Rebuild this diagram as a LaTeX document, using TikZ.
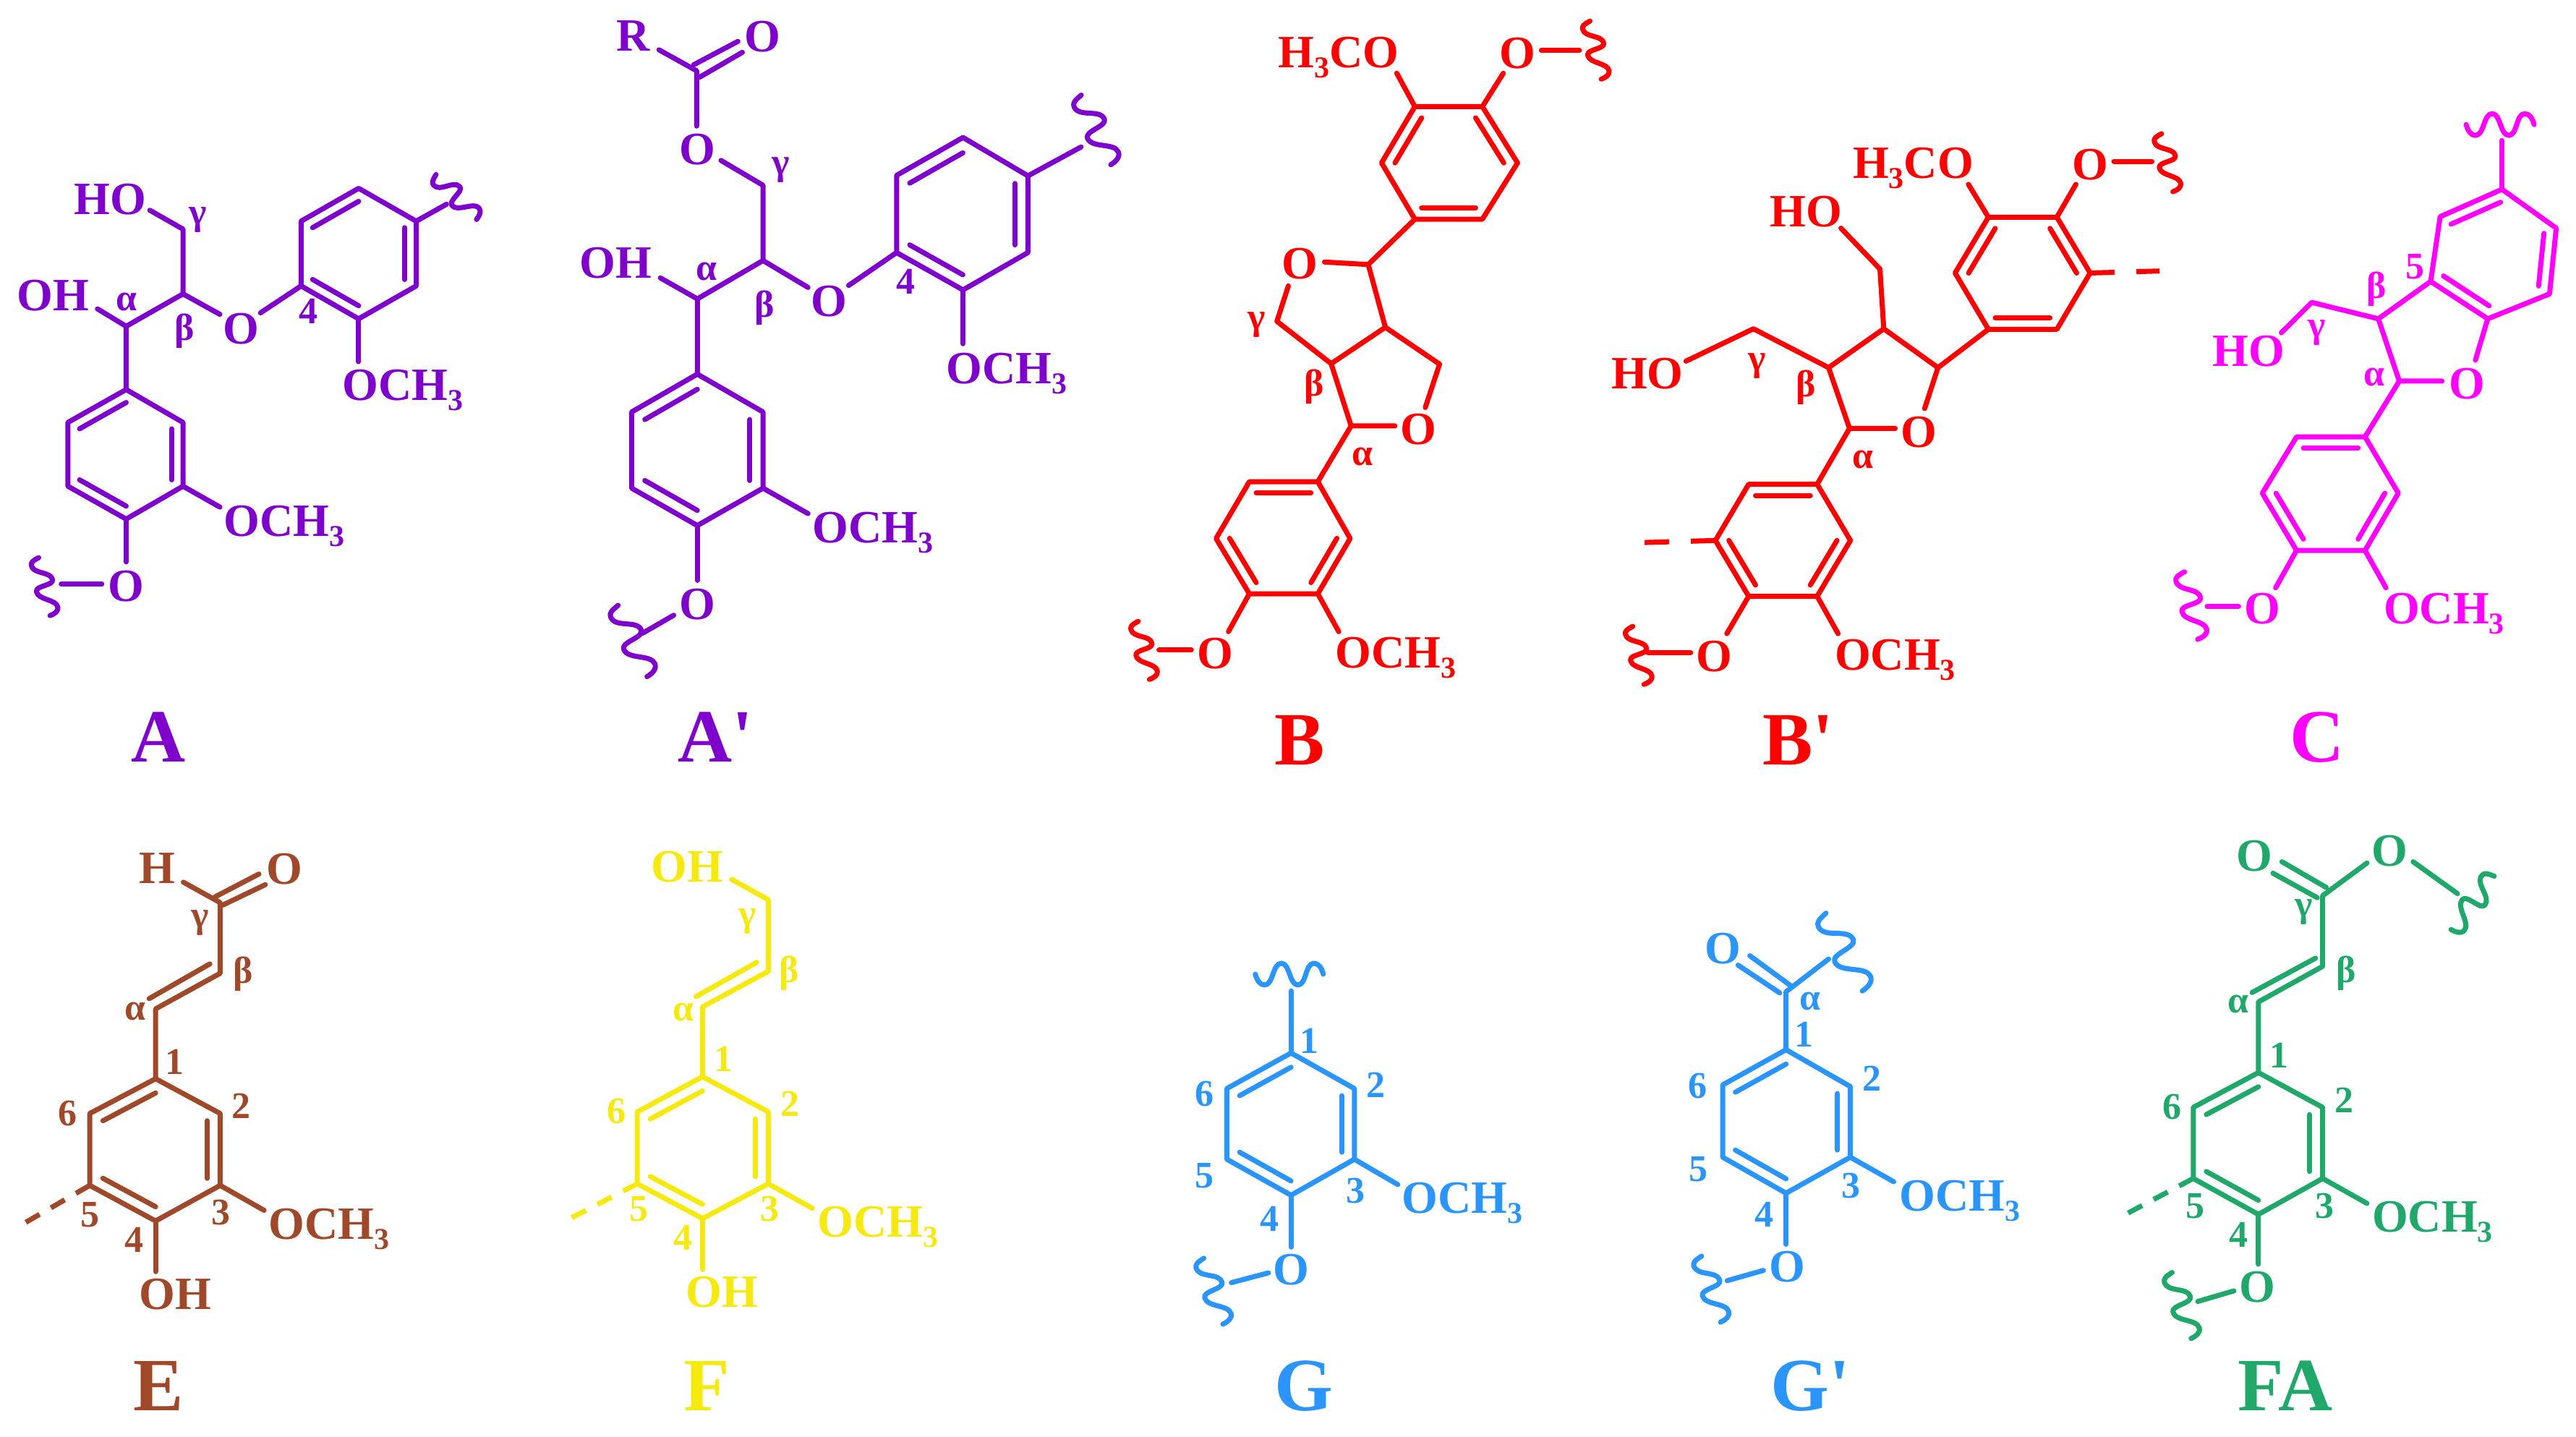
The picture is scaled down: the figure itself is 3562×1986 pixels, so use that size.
\documentclass[tikz,border=0pt]{standalone}
\usepackage{fontspec}
\setmainfont{Liberation Serif}
\usetikzlibrary{calc}
\definecolor{cPur}{HTML}{7F00CC}
\definecolor{cRed}{HTML}{FF0000}
\definecolor{cMag}{HTML}{FF00FF}
\definecolor{cBro}{HTML}{A0492A}
\definecolor{cYel}{HTML}{F5E90F}
\definecolor{cBlu}{HTML}{2B95FF}
\definecolor{cGrn}{HTML}{20A86B}
\tikzset{
  bd/.style={line width=1.75pt,line cap=round,line join=round},
  dsh/.style={bd,line cap=butt,dash pattern=on 5.5pt off 4.5pt},
  dshB/.style={bd,line cap=butt,dash pattern=on 8.5pt off 7.5pt},
  fml/.style={inner sep=0pt,anchor=base west,font=\fontsize{16}{18}\selectfont\bfseries},
  oat/.style={inner sep=0pt,font=\fontsize{16}{18}\selectfont\bfseries},
  grk/.style={inner sep=0pt,font=\fontsize{13}{14}\selectfont\bfseries},
  ttl/.style={inner sep=0pt,anchor=base,font=\fontsize{26}{28}\selectfont\bfseries},
  wv/.pic={\draw[bd,x=.25pt,y=-.25pt] (-47,0) .. controls (-44,10) and (-42,14) .. (-37,14) .. controls (-22,14) and (-22,-15) .. (-8,-15) .. controls (2,-15) and (-4,14) .. (6,14) .. controls (20,14) and (24,-15) .. (37,-15) .. controls (44,-15) and (47,-7) .. (48,0);},
  wh/.pic={\draw[bd,x=.25pt,y=-.25pt] (-47,0) .. controls (-44,10) and (-40,15) .. (-34,15) .. controls (-22,15) and (-23,-15) .. (-11,-15) .. controls (1,-15) and (0,15) .. (12,15) .. controls (24,15) and (22,-15) .. (34,-15) .. controls (41,-15) and (45,-8) .. (47,0);},
  zA/.style={x=.2551pt,y=-.17219pt},
  zB/.style={x=.3288pt,y=-.17219pt},
  zC/.style={x=.2232pt,y=-.14126pt,shift={(0pt,-275pt)}},
  zD/.style={x=.31282pt,y=-.14126pt,shift={(400pt,-275pt)}},
}
\newcommand\Ring[7]{%
  \coordinate (#11) at (#2);\coordinate (#12) at (#3);\coordinate (#13) at (#4);
  \coordinate (#14) at (#5);\coordinate (#15) at (#6);\coordinate (#16) at (#7);
  \coordinate (#1c) at ($(#11)!.5!(#14)$);
  \draw[bd] (#11)--(#12)--(#13)--(#14)--(#15)--(#16)--cycle;}
\newcommand\Dbl[3]{\draw[bd] ($(#1#2)!.2!(#1c)$) -- ($(#1#3)!.2!(#1c)$);}
\newcommand\Three{\raisebox{-.22em}{\fontsize{10.5}{11}\selectfont 3}}
\newcommand\OMe{OCH\Three}
\newcommand\MeO{H\Three CO}
\begin{document}
\begin{tikzpicture}[x=.25pt,y=-.25pt]
\useasboundingbox (0,0) rectangle (3562,1986);
% ---------- A
\begin{scope}[zA,color=cPur]
\Ring{at}{564,444}{564,574}{486,640}{408,574}{408,444}{486,378}
\Dbl{at}{1}{2}\Dbl{at}{3}{4}\Dbl{at}{5}{6}
\Ring{al}{171,782}{248,848}{248,976}{171,1042}{92,976}{92,848}
\Dbl{al}{2}{3}\Dbl{al}{4}{5}\Dbl{al}{6}{1}
\coordinate (ag) at (248,460);\coordinate (ab) at (248,590);\coordinate (aa) at (171,655);
\draw[bd] (203,422) coordinate (ae1) -- (ag) -- (ab) -- (aa) -- (al1);
\draw[bd] (aa) -- (132,620) coordinate (ae2);
\draw[bd] (ab) -- (298,631) coordinate (ae3);
\draw[bd] (at4) -- (353,628) coordinate (ae4);
\draw[bd] (at1) -- (605,410) coordinate (ae5);
\draw[bd] (at3) -- (486,726) coordinate (ae6);
\draw[bd] (al3) -- (298,1018) coordinate (ae7);
\draw[bd] (al4) -- (171,1128) coordinate (ae8);
\draw[bd] (83,1173) coordinate (ae9) -- (138,1173) coordinate (ae10);
\pic[rotate=-48,scale=.88] at (618,395) {wv};
\pic[rotate=-79,scale=.86] at (60,1177) {wv};
\node[fml] (aHO) at (100,430) {HO};
\node[fml] (aOH) at (22,623) {OH};
\node[oat] (aO1) at (327,660) {O};
\node[oat] (aO2) at (171,1177) {O};
\node[fml] (aM1) at (463,803) {\OMe};
\node[fml] (aM2) at (303,1076) {\OMe};
\node[grk] (aLa) at (172,606) {α};
\node[grk] (aLb) at (250,665) {β};
\node[grk] (aLg) at (268,442) {γ};
\node[grk] (aL4) at (418,625) {4};
\node[ttl] (aT) at (215,1530) {A};
\end{scope}
% ---------- A'
\begin{scope}[zA,color=cPur]
\Ring{bt}{1393,353}{1393,507}{1305,582}{1215,507}{1215,352}{1305,276}
\Dbl{bt}{1}{2}\Dbl{bt}{3}{4}\Dbl{bt}{5}{6}
\Ring{bl}{945,751}{1034,827}{1034,980}{945,1055}{856,980}{856,827}
\Dbl{bl}{2}{3}\Dbl{bl}{4}{5}\Dbl{bl}{6}{1}
\coordinate (bc) at (944,142);\coordinate (bg) at (1034,372);\coordinate (bb) at (1034,523);\coordinate (ba) at (945,600);
\draw[bd] (893,100) coordinate (be1) -- (bc) -- (944,253) coordinate (be2);
\draw[bd] (940,130) coordinate (be3) -- (1000,83) coordinate (be4);
\draw[bd] (948,155) coordinate (be5) -- (1006,105) coordinate (be6);
\draw[bd] (977,322) coordinate (be7) -- (bg) -- (bb) -- (ba) -- (bl1);
\draw[bd] (ba) -- (895,558) coordinate (be8);
\draw[bd] (bb) -- (1095,577) coordinate (be9);
\draw[bd] (bt4) -- (1150,573) coordinate (be10);
\draw[bd] (bt1) -- (1465,295) coordinate (be11);
\draw[bd] (bt3) -- (1305,690) coordinate (be12);
\draw[bd] (bl3) -- (1095,1031) coordinate (be13);
\draw[bd] (bl4) -- (945,1165) coordinate (be14);
\draw[bd] (913,1235) coordinate (be15) -- (871,1271) coordinate (be16);
\pic[rotate=-67,scale=1.1] at (1485,260) {wv};
\pic[rotate=-68,scale=1.12] at (857,1286) {wv};
\node[fml] (bR) at (835,103) {R};
\node[oat] (bO0) at (1033,73) {O};
\node[oat] (bO1) at (945,300) {O};
\node[oat] (bO2) at (1123,605) {O};
\node[oat] (bO3) at (945,1213) {O};
\node[fml] (bOH) at (785,558) {OH};
\node[fml] (bM1) at (1282,770) {\OMe};
\node[fml] (bM2) at (1100,1090) {\OMe};
\node[grk] (bLa) at (957,545) {α};
\node[grk] (bLb) at (1036,618) {β};
\node[grk] (bLg) at (1058,342) {γ};
\node[grk] (bL4) at (1227,565) {4};
\node[ttl] (bT) at (970,1530) {A\textquotesingle};
\end{scope}
% ---------- B
\begin{scope}[zB,shift={(375pt,0pt)},color=cRed]
\Ring{ct}{347,214}{418,214}{455,327}{418,440}{347,440}{312,327}
\Dbl{ct}{6}{1}\Dbl{ct}{2}{3}\Dbl{ct}{4}{5}
\Ring{cl}{245,967}{279,1081}{245,1192}{173,1192}{138,1081}{173,967}
\Dbl{cl}{1}{6}\Dbl{cl}{2}{3}\Dbl{cl}{4}{5}
\coordinate (cC) at (298,531);\coordinate (cg) at (202,645);\coordinate (cb) at (259,730);
\coordinate (cD) at (316,657);\coordinate (cE) at (373,731);\coordinate (ca) at (280,855);
\draw[bd] (ct5) -- (cC) -- (252,526) coordinate (ce1);
\draw[bd] (214,574) coordinate (ce2) -- (cg) -- (cb) -- (cD) -- (cC);
\draw[bd] (cD) -- (cE) -- (358,818) coordinate (ce3);
\draw[bd] (326,855) coordinate (ce4) -- (ca) -- (cb);
\draw[bd] (ca) -- (cl1);
\draw[bd] (328,147) coordinate (ce5) -- (ct1);
\draw[bd] (440,147) coordinate (ce6) -- (ct2);
\draw[bd] (480,101) coordinate (ce7) -- (520,101) coordinate (ce8);
\draw[bd] (cl3) -- (267,1268) coordinate (ce9);
\draw[bd] (cl4) -- (151,1268) coordinate (ce10);
\draw[bd] (78,1305) coordinate (ce11) -- (112,1305) coordinate (ce12);
\pic[rotate=-79,scale=.86] at (537,100) {wv};
\pic[rotate=-79,scale=.86] at (62,1305) {wv};
\node[fml] (cM0) at (203,135) {\MeO};
\node[oat] (cO0) at (455,107) {O};
\node[oat] (cO1) at (226,529) {O};
\node[oat] (cO2) at (351,862) {O};
\node[oat] (cO3) at (137,1312) {O};
\node[fml] (cM1) at (263,1340) {\OMe};
\node[grk] (cLg) at (181,652) {γ};
\node[grk] (cLb) at (241,777) {β};
\node[grk] (cLa) at (292,917) {α};
\node[ttl] (cT) at (226,1535) {B};
\end{scope}
% ---------- B'
\begin{scope}[zB,shift={(375pt,0pt)},color=cRed]
\Ring{dt}{950,436}{1022,436}{1057,548}{1022,661}{950,661}{915,548}
\Dbl{dt}{6}{1}\Dbl{dt}{2}{3}\Dbl{dt}{4}{5}
\Ring{dl}{770,972}{805,1085}{770,1197}{698,1197}{663,1085}{698,972}
\Dbl{dl}{1}{6}\Dbl{dl}{2}{3}\Dbl{dl}{4}{5}
\coordinate (dC) at (897,738);\coordinate (dD) at (840,660);\coordinate (dF) at (836,540);
\coordinate (db) at (782,738);\coordinate (dg) at (703,660);\coordinate (da) at (804,860);
\draw[bd] (dt5) -- (dC) -- (dD) -- (dF) -- (795,458) coordinate (de1);
\draw[bd] (dD) -- (db) -- (dg) -- (632,725) coordinate (de2);
\draw[bd] (dC) -- (883,820) coordinate (de3);
\draw[bd] (852,860) coordinate (de4) -- (da) -- (db);
\draw[bd] (da) -- (dl1);
\draw[bd] (929,370) coordinate (de5) -- (dt1);
\draw[bd] (1042,370) coordinate (de6) -- (dt2);
\draw[bd] (1082,324) coordinate (de7) -- (1122,324) coordinate (de8);
\draw[dshB] (dt3) -- (1130,544) coordinate (de9);
\draw[dshB] (dl5) -- (570,1090) coordinate (de10);
\draw[bd] (dl3) -- (792,1272) coordinate (de11);
\draw[bd] (dl4) -- (675,1272) coordinate (de12);
\draw[bd] (592,1310) coordinate (de13) -- (637,1310) coordinate (de14);
\pic[rotate=-79,scale=.86] at (1138,326) {wv};
\pic[rotate=-79,scale=.86] at (582,1315) {wv};
\node[fml] (dM0) at (807,358) {\MeO};
\node[oat] (dO0) at (1057,330) {O};
\node[oat] (dO2) at (877,867) {O};
\node[oat] (dO3) at (662,1317) {O};
\node[fml] (dH1) at (720,455) {HO};
\node[fml] (dH2) at (553,780) {HO};
\node[fml] (dM1) at (788,1345) {\OMe};
\node[grk] (dLg) at (707,735) {γ};
\node[grk] (dLb) at (758,778) {β};
\node[grk] (dLa) at (818,922) {α};
\node[ttl] (dT) at (750,1535) {B\textquotesingle};
\end{scope}
% ---------- C
\begin{scope}[zB,shift={(375pt,0pt)},color=cMag]
\Ring{eu}{1490,380}{1547,458}{1540,590}{1475,640}{1415,565}{1425,435}
\Dbl{eu}{1}{6}\Dbl{eu}{2}{3}\Dbl{eu}{4}{5}
\Ring{el}{1346,877}{1381,990}{1346,1105}{1274,1105}{1238,990}{1274,877}
\Dbl{el}{1}{6}\Dbl{el}{2}{3}\Dbl{el}{4}{5}
\coordinate (eb) at (1360,640);\coordinate (eg) at (1290,607);\coordinate (ea) at (1382,765);
\draw[bd] (1490,282) coordinate (ee1) -- (eu1);
\draw[bd] (eu5) -- (eb) -- (eg) -- (1258,668) coordinate (ee2);
\draw[bd] (eb) -- (ea) -- (1427,765) coordinate (ee3);
\draw[bd] (1462,723) coordinate (ee4) -- (eu4);
\draw[bd] (ea) -- (el1);
\draw[bd] (el3) -- (1368,1180) coordinate (ee5);
\draw[bd] (el4) -- (1252,1180) coordinate (ee6);
\draw[bd] (1180,1217) coordinate (ee7) -- (1213,1217) coordinate (ee8);
\pic at (1488,250) {wh};
\pic[rotate=-79,scale=1] at (1163,1215) {wv};
\node[fml] (eH) at (1185,735) {HO};
\node[oat] (eO1) at (1453,770) {O};
\node[oat] (eO2) at (1238,1222) {O};
\node[fml] (eM) at (1365,1252) {\OMe};
\node[grk] (eL5) at (1399,535) {5};
\node[grk] (eLb) at (1358,580) {β};
\node[grk] (eLg) at (1295,668) {γ};
\node[grk] (eLa) at (1356,757) {α};
\node[ttl] (eT) at (1296,1530) {C};
\end{scope}
% ---------- E
\begin{scope}[zC,color=cBro]
\Ring{fr}{241,693}{341,778}{341,954}{241,1041}{139,954}{139,778}
\Dbl{fr}{2}{3}\Dbl{fr}{4}{5}\Dbl{fr}{6}{1}
\coordinate (fg) at (341,262);\coordinate (fb) at (341,435);\coordinate (fa) at (241,522);
\draw[bd] (284,212) coordinate (fe1) -- (fg) -- (fb) -- (fa) -- (fr1);
\draw[bd] (333,248) coordinate (fe2) -- (401,192) coordinate (fe3);
\draw[bd] (345,268) coordinate (fe4) -- (411,218) coordinate (fe5);
\draw[bd] (325,412) coordinate (fe6) -- (231,497) coordinate (fe7);
\draw[bd] (fr3) -- (409,1015) coordinate (fe8);
\draw[bd] (fr4) -- (241,1165) coordinate (fe9);
\draw[dsh] (fr5) -- (37,1047) coordinate (fe10);
\node[fml] (fH) at (215,215) {H};
\node[oat] (fO) at (441,180) {O};
\node[fml] (fM) at (415,1085) {\OMe};
\node[fml] (fOH) at (215,1258) {OH};
\node[grk] (fLg) at (310,312) {γ};
\node[grk] (fLb) at (376,437) {β};
\node[grk] (fLa) at (210,528) {α};
\node[grk] (fL1) at (270,652) {1};
\node[grk] (fL2) at (374,760) {2};
\node[grk] (fL6) at (105,778) {6};
\node[grk] (fL5) at (140,1025) {5};
\node[grk] (fL4) at (208,1088) {4};
\node[grk] (fL3) at (342,1020) {3};
\node[ttl] (fT) at (245,1505) {E};
\end{scope}
% ---------- F
\begin{scope}[zC,color=cYel]
\Ring{gr}{1088,688}{1190,774}{1190,950}{1088,1035}{987,950}{987,774}
\Dbl{gr}{2}{3}\Dbl{gr}{4}{5}\Dbl{gr}{6}{1}
\coordinate (gg) at (1190,255);\coordinate (gb) at (1190,430);\coordinate (ga) at (1088,517);
\draw[bd] (1133,205) coordinate (ge1) -- (gg) -- (gb) -- (ga) -- (gr1);
\draw[bd] (1172,408) coordinate (ge2) -- (1078,492) coordinate (ge3);
\draw[bd] (gr3) -- (1258,1010) coordinate (ge4);
\draw[bd] (gr4) -- (1088,1160) coordinate (ge5);
\draw[dsh] (gr5) -- (883,1035) coordinate (ge6);
\node[fml] (gOH) at (1008,212) {OH};
\node[fml] (gM) at (1265,1080) {\OMe};
\node[fml] (gH2) at (1062,1252) {OH};
\node[grk] (gLg) at (1158,308) {γ};
\node[grk] (gLb) at (1222,435) {β};
\node[grk] (gLa) at (1058,530) {α};
\node[grk] (gL1) at (1121,645) {1};
\node[grk] (gL2) at (1224,755) {2};
\node[grk] (gL6) at (955,773) {6};
\node[grk] (gL5) at (990,1012) {5};
\node[grk] (gL4) at (1058,1082) {4};
\node[grk] (gL3) at (1192,1012) {3};
\node[ttl] (gT) at (1095,1505) {F};
\end{scope}
% ---------- G
\begin{scope}[zD,color=cBlu]
\Ring{hr}{148,630}{218,717}{218,890}{148,978}{77,890}{77,717}
\Dbl{hr}{2}{3}\Dbl{hr}{4}{5}\Dbl{hr}{6}{1}
\draw[bd] (148,478) coordinate (he1) -- (hr1);
\draw[bd] (hr3) -- (266,952) coordinate (he2);
\draw[bd] (hr4) -- (148,1105) coordinate (he3);
\draw[bd] (123,1168) coordinate (he4) -- (82,1192) coordinate (he5);
\pic at (146,437) {wh};
\pic[rotate=-74] at (62,1212) {wv};
\node[fml] (hM) at (270,1022) {\OMe};
\node[oat] (hO) at (148,1160) {O};
\node[grk] (hL1) at (168,600) {1};
\node[grk] (hL2) at (242,708) {2};
\node[grk] (hL6) at (52,730) {6};
\node[grk] (hL5) at (52,930) {5};
\node[grk] (hL4) at (124,1035) {4};
\node[grk] (hL3) at (219,968) {3};
\node[ttl] (hT) at (162,1505) {G};
\end{scope}
% ---------- G'
\begin{scope}[zD,color=cBlu]
\Ring{ir}{695,622}{766,712}{766,885}{695,973}{625,885}{625,708}
\Dbl{ir}{2}{3}\Dbl{ir}{4}{5}\Dbl{ir}{6}{1}
\coordinate (iC) at (695,480);
\draw[bd] (742,400) coordinate (ie1) -- (iC) -- (ir1);
\draw[bd] (655,392) coordinate (ie2) -- (700,465) coordinate (ie3);
\draw[bd] (642,415) coordinate (ie4) -- (688,483) coordinate (ie5);
\draw[bd] (ir3) -- (814,945) coordinate (ie6);
\draw[bd] (ir4) -- (695,1098) coordinate (ie7);
\draw[bd] (670,1162) coordinate (ie8) -- (630,1187) coordinate (ie9);
\pic[rotate=-65,scale=1.25] at (759,382) {wv};
\pic[rotate=-74] at (612,1207) {wv};
\node[oat] (iO0) at (625,375) {O};
\node[fml] (iM) at (820,1017) {\OMe};
\node[oat] (iO) at (696,1153) {O};
\node[grk] (iLa) at (722,503) {α};
\node[grk] (iL1) at (715,585) {1};
\node[grk] (iL2) at (790,692) {2};
\node[grk] (iL6) at (597,710) {6};
\node[grk] (iL5) at (598,915) {5};
\node[grk] (iL4) at (671,1025) {4};
\node[grk] (iL3) at (767,955) {3};
\node[ttl] (iT) at (722,1505) {G\textquotesingle};
\end{scope}
% ---------- FA
\begin{scope}[zD,color=cGrn]
\Ring{jr}{1217,678}{1288,763}{1288,937}{1217,1025}{1145,937}{1145,763}
\Dbl{jr}{2}{3}\Dbl{jr}{4}{5}\Dbl{jr}{6}{1}
\coordinate (jg) at (1288,245);\coordinate (jb) at (1288,418);\coordinate (ja) at (1217,505);
\draw[bd] (1337,165) coordinate (je1) -- (jg) -- (jb) -- (ja) -- (jr1);
\draw[bd] (1243,162) coordinate (je2) -- (1292,225) coordinate (je3);
\draw[bd] (1233,190) coordinate (je4) -- (1282,250) coordinate (je5);
\draw[bd] (1388,162) coordinate (je6) -- (1437,240) coordinate (je7);
\draw[bd] (1280,398) coordinate (je8) -- (1210,482) coordinate (je9);
\draw[bd] (jr3) -- (1337,998) coordinate (je10);
\draw[bd] (jr4) -- (1217,1147) coordinate (je11);
\draw[bd] (1190,1212) coordinate (je12) -- (1150,1238) coordinate (je13);
\draw[dsh] (jr5) -- (1070,1025) coordinate (je14);
\pic[rotate=-129] at (1454,262) {wv};
\pic[rotate=-74] at (1132,1247) {wv};
\node[oat] (jO1) at (1213,148) {O};
\node[oat] (jO2) at (1362,135) {O};
\node[fml] (jM) at (1342,1068) {\OMe};
\node[oat] (jO3) at (1216,1203) {O};
\node[grk] (jLg) at (1267,285) {γ};
\node[grk] (jLb) at (1314,435) {β};
\node[grk] (jLa) at (1195,510) {α};
\node[grk] (jL1) at (1240,635) {1};
\node[grk] (jL2) at (1312,745) {2};
\node[grk] (jL6) at (1122,762) {6};
\node[grk] (jL5) at (1147,1005) {5};
\node[grk] (jL4) at (1195,1075) {4};
\node[grk] (jL3) at (1290,1005) {3};
\node[ttl] (jT) at (1247,1505) {FA};
\end{scope}
\end{tikzpicture}
\end{document}
